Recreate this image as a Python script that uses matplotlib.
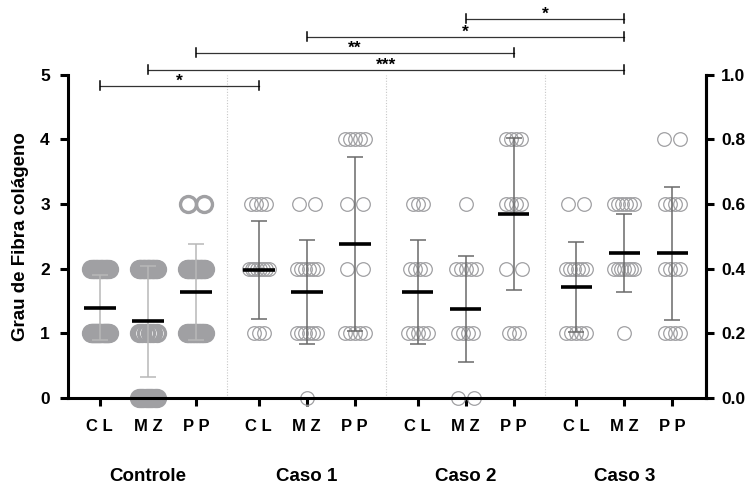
import numpy as np
import matplotlib
matplotlib.use("Agg")
import matplotlib.pyplot as plt

plt.rcParams['font.family'] = ['Liberation Sans', 'DejaVu Sans']
plt.rcParams['font.weight'] = 'bold'

groups = ["Controle", "Caso 1", "Caso 2", "Caso 3"]
sites = ["C L", "M Z", "P P"]
levels = [0, 1, 2, 3, 4]

# number of samples at each score level (0..4), per group x site
counts = [
    [[0, 18, 12, 0, 0], [9, 6, 15, 0, 0], [0, 13, 15, 2, 0]],
    [[0, 3, 8, 4, 0], [1, 6, 6, 2, 0], [0, 5, 2, 2, 5]],
    [[0, 5, 4, 3, 0], [2, 4, 5, 1, 0], [0, 3, 2, 4, 4]],
    [[0, 5, 6, 2, 0], [0, 1, 7, 6, 0], [0, 4, 4, 4, 2]],
]
means = [[1.40, 1.19, 1.64], [1.98, 1.64, 2.38], [1.64, 1.38, 2.85], [1.72, 2.24, 2.24]]
sds = [[0.50, 0.86, 0.74], [0.76, 0.81, 1.35], [0.81, 0.82, 1.18], [0.70, 0.60, 1.03]]

# significance: (group, site) -> (group, site), label
sig = [
    ((0, 0), (1, 0), "*"),
    ((0, 1), (3, 1), "***"),
    ((0, 2), (2, 2), "**"),
    ((1, 1), (3, 1), "*"),
    ((2, 1), (3, 1), "*"),
]
sig_y = [4.83, 5.08, 5.34, 5.59, 5.87]

gap = 3.31
def xpos(g, s):
    return g * gap + s

fig = plt.figure(figsize=(7.54, 4.86), dpi=100)
ax = fig.add_axes([0.090, 0.181, 0.846, 0.665])
unit = 48.0  # px per x unit

for g in range(4):
    for s in range(3):
        x0 = xpos(g, s)
        ctrl = g == 0
        for lv, n in zip(levels, counts[g][s]):
            if n == 0:
                continue
            if n == 1:
                offs = np.array([0.0])
            elif n == 2:
                offs = np.array([-8, 8]) / unit
            else:
                span = (18 if ctrl else min(20, 5 * (n - 1))) / unit
                offs = np.linspace(-span / 2, span / 2, n)
            ax.plot(x0 + offs, [lv] * n, 'o', ms=11.5 if ctrl else 9.8,
                    mfc='none', mec='#a0a0a3', mew=2.4 if ctrl else 0.9,
                    clip_on=False, zorder=2)
        ecol = '#b8b8b8' if ctrl else '#6a6a6a'
        ax.errorbar(x0, means[g][s], yerr=sds[g][s], fmt='none', ecolor=ecol,
                    elinewidth=1.1, capsize=5.5, capthick=1.1, zorder=3)
        ax.hlines(means[g][s], x0 - 0.33, x0 + 0.33, color='black', lw=2.6, zorder=4)

for g in range(1, 4):
    xd = (xpos(g - 1, 2) + xpos(g, 0)) / 2
    ax.axvline(xd, color='#c8c8c8', lw=0.8, ls=(0, (1, 1.5)), zorder=1)

for ((g1, s1), (g2, s2), lab), yy in zip(sig, sig_y):
    xa, xb = xpos(g1, s1), xpos(g2, s2)
    ax.plot([xa, xb], [yy, yy], color='#333333', lw=0.9, clip_on=False)
    for xx in (xa, xb):
        ax.plot([xx, xx], [yy - 0.07, yy + 0.07], color='black', lw=1.1, clip_on=False)
    ax.text((xa + xb) / 2, yy - 0.05, lab, ha='center', va='bottom',
            fontsize=12.5, fontweight='bold')

ax.set_xlim(-0.667, 12.625)
ax.set_ylim(0, 5)
ax.set_yticks([0, 1, 2, 3, 4, 5])
ticks_x = [xpos(g, s) for g in range(4) for s in range(3)]
ax.set_xticks(ticks_x)
ax.set_xticklabels(sites * 4)
ax.spines['top'].set_visible(False)
for sp in ['left', 'bottom', 'right']:
    ax.spines[sp].set_linewidth(2.2)
ax.tick_params(axis='x', width=2.2, length=6, labelsize=12, pad=9)
ax.tick_params(axis='y', width=2.2, length=6, labelsize=12.5, pad=7)
ax.set_ylabel("Grau de Fibra colágeno", fontsize=13.5, fontweight='bold', labelpad=8)

for g, name in enumerate(groups):
    ax.text(xpos(g, 1), -1.22, name, ha='center', va='center',
            fontsize=13.5, fontweight='bold')

ax2 = ax.twinx()
ax2.set_ylim(0, 1)
ax2.set_yticks(np.arange(0, 1.01, 0.2))
ax2.set_yticklabels([f"{v:.1f}" for v in np.arange(0, 1.01, 0.2)])
for sp in ['top', 'left', 'bottom']:
    ax2.spines[sp].set_visible(False)
ax2.spines['right'].set_linewidth(2.2)
ax2.tick_params(axis='y', width=2.2, length=6, labelsize=12.5, pad=5)

fig.savefig("out.png", dpi=100)
